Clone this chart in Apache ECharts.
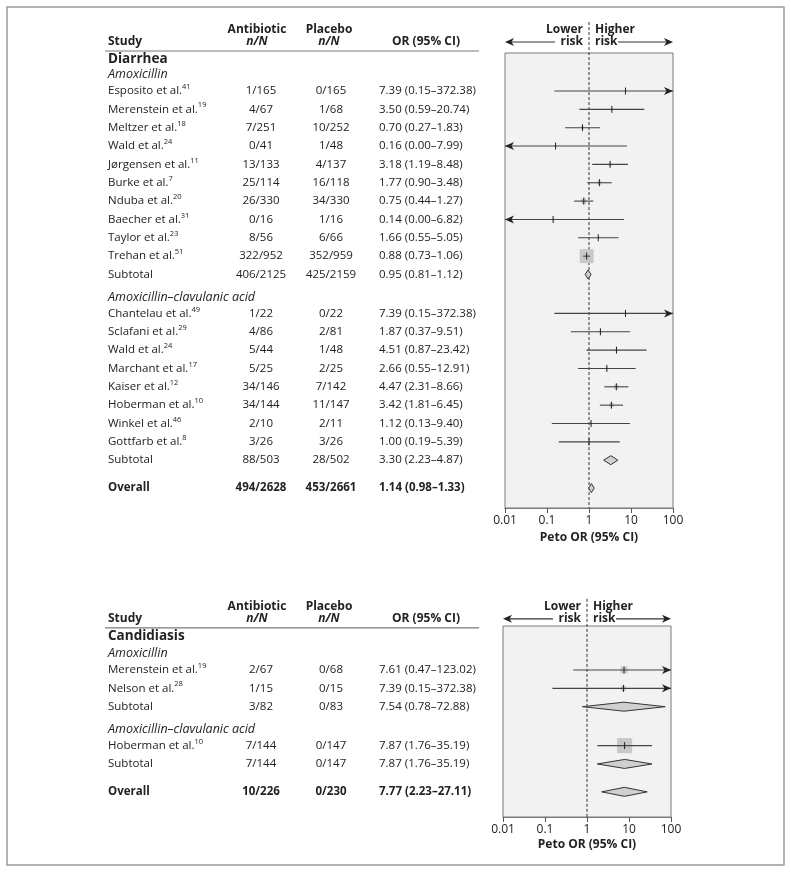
<!DOCTYPE html>
<html>
<head>
<meta charset="utf-8">
<script src="https://cdn.jsdelivr.net/npm/echarts@6/dist/echarts.min.js"></script>
<style>
  html, body { margin: 0; background: #fff; }
  #chart { width: 791px; height: 873px; }
</style>
</head>
<body>
<div id="chart"></div>
<script>
// study, ref, antibiotic n/N, placebo n/N, OR, lower, upper, weight (from square size)
const diarrheaAmox = [
  ["Esposito et al.", "41", "1/165", "0/165", 7.39, 0.15, 372.38, 1],
  ["Merenstein et al.", "19", "4/67", "1/68", 3.5, 0.59, 20.74, 1.5],
  ["Meltzer et al.", "18", "7/251", "10/252", 0.7, 0.27, 1.83, 3],
  ["Wald et al.", "24", "0/41", "1/48", 0.16, 0.0, 7.99, 1],
  ["Jørgensen et al.", "11", "13/133", "4/137", 3.18, 1.19, 8.48, 3],
  ["Burke et al.", "7", "25/114", "16/118", 1.77, 0.9, 3.48, 5],
  ["Nduba et al.", "20", "26/330", "34/330", 0.75, 0.44, 1.27, 8],
  ["Baecher et al.", "31", "0/16", "1/16", 0.14, 0.0, 6.82, 1],
  ["Taylor et al.", "23", "8/56", "6/66", 1.66, 0.55, 5.05, 1.5],
  ["Trehan et al.", "51", "322/952", "352/959", 0.88, 0.73, 1.06, 60],
];
const diarrheaAmoxSub = ["406/2125", "425/2159", 0.95, 0.81, 1.12];
const diarrheaAmoxClav = [
  ["Chantelau et al.", "49", "1/22", "0/22", 7.39, 0.15, 372.38, 1],
  ["Sclafani et al.", "29", "4/86", "2/81", 1.87, 0.37, 9.51, 1.5],
  ["Wald et al.", "24", "5/44", "1/48", 4.51, 0.87, 23.42, 1.5],
  ["Marchant et al.", "17", "5/25", "2/25", 2.66, 0.55, 12.91, 1.5],
  ["Kaiser et al.", "12", "34/146", "7/142", 4.47, 2.31, 8.66, 6],
  ["Hoberman et al.", "10", "34/144", "11/147", 3.42, 1.81, 6.45, 6],
  ["Winkel et al.", "46", "2/10", "2/11", 1.12, 0.13, 9.4, 1],
  ["Gottfarb et al.", "8", "3/26", "3/26", 1.0, 0.19, 5.39, 1],
];
const diarrheaAmoxClavSub = ["88/503", "28/502", 3.3, 2.23, 4.87];
const diarrheaOverall = ["494/2628", "453/2661", 1.14, 0.98, 1.33];

const candAmox = [
  ["Merenstein et al.", "19", "2/67", "0/68", 7.61, 0.47, 123.02, 15],
  ["Nelson et al.", "28", "1/15", "0/15", 7.39, 0.15, 372.38, 8],
];
const candAmoxSub = ["3/82", "0/83", 7.54, 0.78, 72.88];
const candAmoxClav = [
  ["Hoberman et al.", "10", "7/144", "0/147", 7.87, 1.76, 35.19, 70],
];
const candAmoxClavSub = ["7/144", "0/147", 7.87, 1.76, 35.19];
const candOverall = ["10/226", "0/230", 7.77, 2.23, 27.11];

const groupNames = ["Amoxicillin", "Amoxicillin–clavulanic acid"];
const xTicks = [0.01, 0.1, 1, 10, 100];

// ---- layout ----
const ROW = 18.35;
const FONT = '"Open Sans", "Noto Sans", sans-serif';
const INK = "#222";
const X_MIN = xTicks[0];
const X_MAX = xTicks[xTicks.length - 1];
const TABLE_LEFT = 100;
const TABLE_W = 385;
const COL = { study: 8, abx: 161, abxHead: 157, pla: 231, plaHead: 229, or: 279, orHead: 326, ruleL: 5, ruleR: 379 };
const HEAD1 = -3.32, HEAD2 = -2.67, RULE = -2.18, TITLE = -1.75;

const panels = [
  {
    title: "Diarrhea",
    groups: [[groupNames[0], diarrheaAmox, diarrheaAmoxSub], [groupNames[1], diarrheaAmoxClav, diarrheaAmoxClavSub]],
    overall: diarrheaOverall,
    firstRow: 91, tableTop: 16, boxTop: 53, boxBottom: 508, boxLeft: 505, boxW: 168, headShift: 0,
  },
  {
    title: "Candidiasis",
    groups: [[groupNames[0], candAmox, candAmoxSub], [groupNames[1], candAmoxClav, candAmoxClavSub]],
    overall: candOverall,
    firstRow: 670, tableTop: 590, boxTop: 626, boxBottom: 817, boxLeft: 503, boxW: 168, headShift: -0.12,
  },
];

function buildRows(p) {
  const h = p.headShift;
  const rows = [
    { kind: "head1", y: HEAD1 + h },
    { kind: "head2", y: HEAD2 + h },
    { kind: "rule", y: RULE + h },
    { kind: "title", y: TITLE + h, text: p.title },
  ];
  let y = 0;
  p.groups.forEach(function (g) {
    rows.push({ kind: "group", y: y - 0.88, text: g[0] });
    g[1].forEach(function (s) {
      rows.push({ kind: "study", y: y, name: s[0], ref: s[1], abx: s[2], pla: s[3], or: s[4], lo: s[5], hi: s[6], wt: s[7] });
      y += 1;
    });
    const t = g[2];
    rows.push({ kind: "sub", y: y, name: "Subtotal", abx: t[0], pla: t[1], or: t[2], lo: t[3], hi: t[4], wt: 0 });
    y += 2.12;
  });
  const o = p.overall;
  rows.push({ kind: "overall", y: y - 2.12 + 1.52, name: "Overall", abx: o[0], pla: o[1], or: o[2], lo: o[3], hi: o[4], wt: 0 });
  return rows;
}

function fmtOR(r) {
  return r.or.toFixed(2) + " (" + r.lo.toFixed(2) + "–" + r.hi.toFixed(2) + ")";
}

function tableRenderer(rows) {
  return function (params, api) {
    const r = rows[params.dataIndex];
    const y = api.coord([0, r.y])[1];
    const X = function (v) { return api.coord([v, r.y])[0]; };
    const kids = [];
    const put = function (x, text, align, o) {
      o = o || {};
      const st = {
        text: text, align: align, textAlign: align, verticalAlign: "middle", textVerticalAlign: "middle",
        fill: INK, fontFamily: FONT, fontSize: o.size || 11.5,
        fontWeight: o.bold ? "bold" : "normal", fontStyle: o.italic ? "italic" : "normal",
      };
      if (o.rich) st.rich = o.rich;
      kids.push({ type: "text", x: X(x), y: y, style: st });
    };
    const bold = r.kind === "overall";
    switch (r.kind) {
      case "head1":
        put(COL.abxHead, "Antibiotic", "center", { bold: true, size: 12 });
        put(COL.plaHead, "Placebo", "center", { bold: true, size: 12 });
        break;
      case "head2":
        put(COL.study, "Study", "left", { bold: true, size: 12 });
        put(COL.abxHead, "n/N", "center", { bold: true, italic: true, size: 12 });
        put(COL.plaHead, "n/N", "center", { bold: true, italic: true, size: 12 });
        put(COL.orHead, "OR (95% CI)", "center", { bold: true, size: 12 });
        break;
      case "rule":
        kids.push({ type: "line", shape: { x1: X(COL.ruleL), y1: y, x2: X(COL.ruleR), y2: y }, style: { stroke: "#7a7a7a", lineWidth: 1.2 } });
        break;
      case "title":
        put(COL.study, r.text, "left", { bold: true, size: 13.5 });
        break;
      case "group":
        put(COL.study, r.text, "left", { italic: true, size: 12.5 });
        break;
      default:
        if (r.ref) {
          put(COL.study, "{n|" + r.name + "}{s|" + r.ref + "}", "left", {
            rich: {
              n: { fontSize: 11.5, fontFamily: FONT, fill: INK, lineHeight: 16 },
              s: { fontSize: 7.5, fontFamily: FONT, fill: INK, lineHeight: 9, verticalAlign: "top" },
            },
          });
        } else {
          put(COL.study, r.name, "left", { bold: bold });
        }
        put(COL.abx, r.abx, "center", { bold: bold });
        put(COL.pla, r.pla, "center", { bold: bold });
        put(COL.or, fmtOR(r), "left", { bold: bold });
    }
    return { type: "group", children: kids };
  };
}

function arrowHead(x, y, dir) {
  return {
    type: "polygon",
    shape: { points: [[x, y], [x - dir * 9, y - 4], [x - dir * 6.5, y], [x - dir * 9, y + 4]] },
    style: { fill: "#222" },
  };
}

function forestRenderer(params, api) {
  const y = api.value(0), or = api.value(1), lo = api.value(2), hi = api.value(3), wt = api.value(4), kind = api.value(5);
  const mid = api.coord([or, y]);
  const yc = mid[1];
  const xLo = api.coord([Math.max(lo, X_MIN), y])[0];
  const xHi = api.coord([Math.min(hi, X_MAX), y])[0];
  const kids = [];
  if (kind === 0) {
    const s = 1.8 * Math.sqrt(wt);
    kids.push({ type: "rect", shape: { x: mid[0] - s / 2, y: yc - s / 2, width: s, height: s }, style: { fill: "#c8c8c8" } });
    kids.push({ type: "line", shape: { x1: xLo, y1: yc, x2: xHi, y2: yc }, style: { stroke: "#444", lineWidth: 1.1 } });
    if (lo < X_MIN) kids.push(arrowHead(xLo, yc, -1));
    if (hi > X_MAX) kids.push(arrowHead(xHi, yc, 1));
    kids.push({ type: "line", shape: { x1: mid[0], y1: yc - 3.5, x2: mid[0], y2: yc + 3.5 }, style: { stroke: "#222", lineWidth: 1 } });
  } else {
    kids.push({
      type: "polygon",
      shape: { points: [[xLo, yc], [mid[0], yc - 4.5], [xHi, yc], [mid[0], yc + 4.5]] },
      style: { fill: "#d0d0d0", stroke: "#333", lineWidth: 1 },
    });
  }
  return { type: "group", children: kids };
}

var myChart = echarts.init(document.getElementById("chart"));
const grids = [], xAxes = [], yAxes = [], series = [];

panels.forEach(function (p, i) {
  const rows = buildRows(p);
  p.yMin = (p.boxTop - p.firstRow) / ROW;
  p.yMax = (p.boxBottom - p.firstRow) / ROW;
  const tMin = (p.tableTop - p.firstRow) / ROW;

  grids.push({ left: TABLE_LEFT, top: p.tableTop, width: TABLE_W, height: p.boxBottom - p.tableTop });
  grids.push({
    left: p.boxLeft, top: p.boxTop, width: p.boxW, height: p.boxBottom - p.boxTop,
    show: true, backgroundColor: "#f2f2f2", borderColor: "#7a7a7a", borderWidth: 1,
  });
  xAxes.push({ gridIndex: i * 2, type: "value", min: 0, max: TABLE_W, show: false });
  xAxes.push({
    gridIndex: i * 2 + 1, type: "log", logBase: 10, min: X_MIN, max: X_MAX,
    axisLine: { show: true, onZero: false, lineStyle: { color: "#7a7a7a", width: 1 } },
    axisTick: { show: true, length: 5, lineStyle: { color: "#555" } },
    splitLine: { show: false },
    axisLabel: {
      color: INK, fontFamily: FONT, fontSize: 12, margin: 7, showMinLabel: true, showMaxLabel: true,
      formatter: function (v) { return String(+(+v).toPrecision(3)); },
    },
    name: "Peto OR (95% CI)", nameLocation: "middle", nameGap: 22,
    nameTextStyle: { color: INK, fontFamily: FONT, fontSize: 12, fontWeight: "bold" },
  });
  yAxes.push({ gridIndex: i * 2, type: "value", inverse: true, min: tMin, max: p.yMax, show: false });
  yAxes.push({ gridIndex: i * 2 + 1, type: "value", inverse: true, min: p.yMin, max: p.yMax, show: false });

  series.push({
    type: "custom", xAxisIndex: i * 2, yAxisIndex: i * 2, silent: true,
    data: rows.map(function (r) { return [0, r.y]; }),
    encode: { x: 0, y: 1 },
    renderItem: tableRenderer(rows),
  });
  const marks = rows.filter(function (r) { return r.kind === "study" || r.kind === "sub" || r.kind === "overall"; });
  series.push({
    type: "custom", xAxisIndex: i * 2 + 1, yAxisIndex: i * 2 + 1, silent: true, z: 3,
    data: marks.map(function (r) { return [r.y, r.or, r.lo, r.hi, r.wt, r.kind === "study" ? 0 : 1]; }),
    encode: { x: 1, y: 0 },
    renderItem: forestRenderer,
  });
});

myChart.setOption({
  animation: false,
  backgroundColor: "#fff",
  grid: grids,
  xAxis: xAxes,
  yAxis: yAxes,
  series: series,
});

// outer frame, header arrows, "Lower / Higher risk" and the reference line at OR = 1
const graphics = [
  { type: "rect", z: 0, shape: { x: 7, y: 7, width: 777, height: 858 }, style: { fill: null, stroke: "#9a9a9a", lineWidth: 1.5 } },
];
panels.forEach(function (p, i) {
  const xa = i * 2 + 1;
  const x1 = myChart.convertToPixel({ xAxisIndex: xa }, 1);
  const left = myChart.convertToPixel({ xAxisIndex: xa }, X_MIN);
  const right = myChart.convertToPixel({ xAxisIndex: xa }, X_MAX);
  const y1 = myChart.convertToPixel({ yAxisIndex: i * 2 }, HEAD1 + p.headShift);
  const y2 = myChart.convertToPixel({ yAxisIndex: i * 2 }, HEAD2 + p.headShift);
  const bottom = myChart.convertToPixel({ yAxisIndex: xa }, p.yMax);
  const font = "bold 12px " + FONT;
  const lbl = function (x, y, text, align) {
    return { type: "text", x: x, y: y, z: 5, style: { text: text, align: align, verticalAlign: "middle", font: font, fill: INK } };
  };
  graphics.push(
    { type: "line", z: 1, shape: { x1: x1, y1: y1 - 8, x2: x1, y2: bottom }, style: { stroke: "#333", lineWidth: 1, lineDash: [3, 2] } },
    lbl(x1 - 6, y1, "Lower", "right"),
    lbl(x1 - 6, y2, "risk", "right"),
    lbl(x1 + 6, y1, "Higher", "left"),
    lbl(x1 + 6, y2, "risk", "left"),
    { type: "line", z: 5, shape: { x1: left + 4, y1: y2, x2: x1 - 34, y2: y2 }, style: { stroke: "#333", lineWidth: 1.2 } },
    Object.assign(arrowHead(left, y2, -1), { z: 5 }),
    { type: "line", z: 5, shape: { x1: x1 + 29, y1: y2, x2: right - 4, y2: y2 }, style: { stroke: "#333", lineWidth: 1.2 } },
    Object.assign(arrowHead(right, y2, 1), { z: 5 })
  );
});
myChart.setOption({ graphic: graphics });

window.addEventListener("resize", function () {
  myChart.resize();
});
</script>
</body>
</html>
